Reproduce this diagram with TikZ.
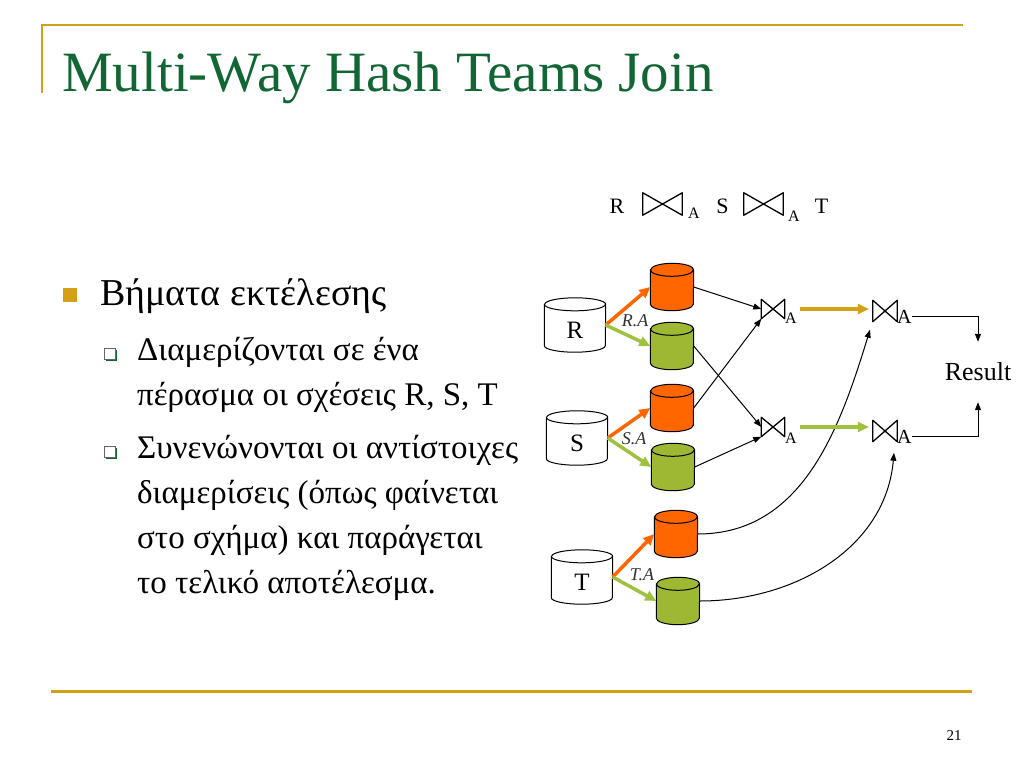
\documentclass[tikz,border=0pt]{standalone}
\usepackage{fontspec}
\setmainfont{Liberation Serif}
\usetikzlibrary{arrows.meta,shadows}
\definecolor{gold}{RGB}{212,160,23}
\definecolor{titlegreen}{RGB}{17,102,51}
\definecolor{partorange}{RGB}{255,102,0}
\definecolor{partgreen}{RGB}{158,184,52}
\definecolor{arrgreen}{RGB}{160,192,64}
\definecolor{labelgray}{RGB}{50,50,50}
\begin{document}
\begin{tikzpicture}[x=1pt,y=-1pt,
    relbox/.style={inner sep=0pt, minimum width=61pt, minimum height=54pt},
    partbox/.style={inner sep=0pt, minimum width=43pt, minimum height=47pt},
    reltext/.style={inner sep=0pt, font=\fontsize{25}{25}\selectfont},
    joinbox/.style={inner sep=0pt, minimum width=23pt, minimum height=19pt},
    sub/.style={inner sep=0pt, font=\fontsize{16}{16}\selectfont},
    flow/.style={-{Triangle[length=8pt,width=6pt]}, line width=1pt},
    hashflow/.style={-{Triangle[length=11pt,width=10pt]}, line width=3.5pt},
    hashlabel/.style={inner sep=0pt, font=\fontsize{18}{18}\selectfont\itshape, text=labelgray},
    hollow/.style={draw=black!60, fill=white, minimum size=11pt, inner sep=0pt, drop shadow={fill=titlegreen, shadow xshift=1pt, shadow yshift=-1pt, opacity=1}}]
    \useasboundingbox (0,0) rectangle (1024,768);
    \draw[gold, line width=2pt] (42,93) -- (42,25) -- (963,25);
    \draw[gold, line width=3pt] (51,691) -- (972,691);
    \node[anchor=base west, inner sep=0pt, text=titlegreen, font=\fontsize{57}{57}\selectfont] (title) at (62,91) {Multi-Way Hash Teams Join};
    \node[inner sep=0pt, font=\fontsize{15}{15}\selectfont] (page) at (954,736) {21};
    \node[fill=gold, minimum size=14pt, inner sep=0pt] (b0) at (70,295) {};
    \node[anchor=base west, inner sep=0pt, font=\fontsize{38}{38}\selectfont] (head) at (100,305) {Βήματα εκτέλεσης};
    \node[hollow] (b1) at (110,354) {};
    \node[hollow] (b2) at (110,452) {};
    \node[anchor=base west, align=left, inner sep=0pt, font=\fontsize{33}{45}\selectfont] (step1) at (137,405) {Διαμερίζονται σε ένα\\πέρασμα οι σχέσεις R, S, T};
    \node[anchor=base west, align=left, inner sep=0pt, font=\fontsize{33}{45}\selectfont] (step2) at (137,593) {Συνενώνονται οι αντίστοιχες\\διαμερίσεις (όπως φαίνεται\\στο σχήμα) και παράγεται\\το τελικό αποτέλεσμα.};
    \node[anchor=base, inner sep=0pt, font=\fontsize{22}{22}\selectfont] (fR) at (617,213) {R};
    \node[joinbox, minimum width=39pt, minimum height=22pt] (fj1) at (662.5,204) {};
    \node[sub, anchor=base west] (fa1) at (688,218) {A};
    \node[anchor=base, inner sep=0pt, font=\fontsize{22}{22}\selectfont] (fS) at (722.5,213) {S};
    \node[joinbox, minimum width=39pt, minimum height=22pt] (fj2) at (763.5,204) {};
    \node[sub, anchor=base west] (fa2) at (788,221) {A};
    \node[anchor=base, inner sep=0pt, font=\fontsize{22}{22}\selectfont] (fT) at (821.5,213) {T};
    \node[relbox] (R) at (575,325) {};
    \node[relbox] (S) at (577,438) {};
    \node[relbox] (T) at (582,577) {};
    \node[partbox] (Ro) at (672,287) {};
    \node[partbox] (Rg) at (672,346) {};
    \node[partbox] (So) at (672,408) {};
    \node[partbox] (Sg) at (673,467) {};
    \node[partbox] (To) at (676,534) {};
    \node[partbox] (Tg) at (678,601) {};
    \foreach \c/\col/\rx in {R/white/30.5, S/white/30.5, T/white/30.5, Ro/partorange/21.5, Rg/partgreen/21.5, So/partorange/21.5, Sg/partgreen/21.5, To/partorange/21.5, Tg/partgreen/21.5}
        \draw[fill=\col, line width=1pt] ([yshift=-6.5pt]\c.north west) -- ([yshift=6.5pt]\c.south west)
            arc[start angle=180, end angle=360, x radius=\rx pt, y radius=6.5pt] -- ([yshift=-6.5pt]\c.north east)
            arc[start angle=0, end angle=180, x radius=\rx pt, y radius=6.5pt] -- cycle
            ([yshift=-6.5pt]\c.north west) arc[start angle=180, end angle=360, x radius=\rx pt, y radius=6.5pt];
    \node[reltext] (Rl) at ([yshift=-5pt]R.center) {R};
    \node[reltext] (Sl) at ([yshift=-5pt]S.center) {S};
    \node[reltext] (Tl) at ([yshift=-5pt]T.center) {T};
    \node[joinbox] (j1) at (773,309) {};
    \node[joinbox] (j2) at (773,427) {};
    \node[joinbox, minimum width=24pt, minimum height=21pt] (j3) at (885,311) {};
    \node[joinbox, minimum width=24pt, minimum height=21pt] (j4) at (885,431) {};
    \foreach \j in {fj1,fj2,j1,j2,j3,j4}
        \draw[line width=1.3pt, line join=round] (\j.north west) -- (\j.south west) -- (\j.north east) -- (\j.south east) -- cycle;
    \node[sub, anchor=base west] (j1a) at (785,323) {A};
    \node[sub, anchor=base west] (j2a) at (785,443) {A};
    \node[sub, anchor=base west, font=\fontsize{20}{20}\selectfont] (j3a) at (897,323) {A};
    \node[sub, anchor=base west, font=\fontsize{20}{20}\selectfont] (j4a) at (897,443) {A};
    \node[inner sep=0pt, minimum height=60pt, font=\fontsize{26}{26}\selectfont] (res) at (978,372) {Result};
    \draw[hashflow, partorange] (R.east) -- (Ro.west);
    \draw[hashflow, arrgreen] (R.east) -- (Rg.west);
    \draw[hashflow, partorange] (S.east) -- (So.west);
    \draw[hashflow, arrgreen] (S.east) -- (Sg.west);
    \draw[hashflow, partorange] (T.east) -- (To.west);
    \draw[hashflow, arrgreen] (T.east) -- (Tg.west);
    \node[hashlabel] (ra) at (635,321) {R.A};
    \node[hashlabel] (sa) at (634,439) {S.A};
    \node[hashlabel] (ta) at (642,575) {T.A};
    \draw[flow] (Ro.east) -- (j1.west);
    \draw[flow] (So.east) -- (j1.south west);
    \draw[flow] (Rg.east) -- (j2.west);
    \draw[flow] (Sg.east) -- (j2.south west);
    \draw[flow] (To.east) to[out=0, in=-107] ([xshift=-15pt,yshift=-8pt]j3.south);
    \draw[flow] (Tg.east) to[out=0, in=-95] ([xshift=9pt,yshift=-11pt]j4.south);
    \draw[hashflow, gold, shorten <=3pt, shorten >=4pt] (j1a.east |- j1.west) -- (j3.west |- j1.west);
    \draw[hashflow, arrgreen, shorten <=3pt, shorten >=4pt] (j2a.east |- j2.west) -- (j4.west |- j2.west);
    \draw[flow] (j3a.east) -| (res.north);
    \draw[flow] (j4a.east) -| (res.south);
\end{tikzpicture}
\end{document}
